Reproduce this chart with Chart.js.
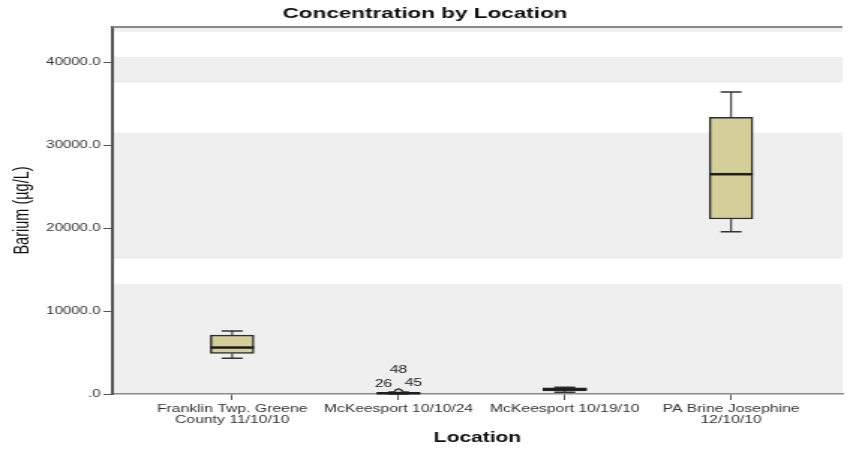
<!DOCTYPE html>
<html>
<head>
<meta charset="utf-8">
<title>Concentration by Location</title>
<script src="https://cdn.jsdelivr.net/npm/chart.js@4/dist/chart.umd.min.js"></script>
<style>
  html, body { margin: 0; padding: 0; background: #fff; overflow: hidden; }
  /* the chart is laid out narrow and widened horizontally, SPSS export style */
  #wrap { width: 567px; height: 449px; transform: scaleX(1.4991); transform-origin: 0 0; }
</style>
</head>
<body>
<div id="wrap"><canvas id="chart"></canvas></div>
<script>
// Barium box plots per sampling location (µg/L)
const locations = [
  ['Franklin Twp. Greene', 'County 11/10/10'],
  ['McKeesport 10/10/24'],
  ['McKeesport 10/19/10'],
  ['PA Brine Josephine', '12/10/10'],
];
const whiskerLow  = [4300,    10,  200, 19550];
const quartile1   = [4900,    40,  380, 21100];
const medians     = [5600,    90,  560, 26500];
const quartile3   = [7100,   150,  740, 33350];
const whiskerHigh = [7600,   230,  800, 36400];

// outliers: location index, value, case number
const outlierLoc   = [1, 1, 1];
const outlierValue = [270, 290, 310];
const outlierCase  = ['26', '45', '48'];

const yTicks = [0, 10000, 20000, 30000, 40000];
const yMax = 44250;

// alternating backdrop stripes, in µg/L
const bandRanges = [[0, 13260], [16310, 31500], [37530, 40630], [43680, 44250]];

const FONT = '"Liberation Sans", Arial, sans-serif';
const INK = '#333';

const backdrop = {
  id: 'backdrop',
  beforeDraw(chart) {
    const { ctx, chartArea: a, scales: { y } } = chart;
    ctx.save();
    ctx.fillStyle = '#fff';
    ctx.fillRect(a.left, a.top, a.right - a.left, a.bottom - a.top);
    ctx.fillStyle = '#efefef';
    bandRanges.forEach(([lo, hi]) => {
      const top = y.getPixelForValue(hi), bot = y.getPixelForValue(lo);
      ctx.fillRect(a.left, top, a.right - a.left, bot - top);
    });
    ctx.restore();
  },
  afterDraw(chart) {
    const { ctx, chartArea: a } = chart;
    ctx.save();
    ctx.strokeStyle = '#888';
    ctx.lineWidth = 2;
    ctx.beginPath();
    ctx.moveTo(a.left, a.top);
    ctx.lineTo(a.right, a.top);
    ctx.stroke();
    ctx.restore();
  }
};

const boxParts = {
  id: 'boxParts',
  beforeDatasetsDraw(chart) {
    const { ctx, scales: { x, y } } = chart;
    const cap = 7;
    ctx.save();
    ctx.strokeStyle = '#333';
    locations.forEach((_, i) => {
      const px = x.getPixelForValue(i);
      const lo = y.getPixelForValue(whiskerLow[i]), hi = y.getPixelForValue(whiskerHigh[i]);
      ctx.lineWidth = 1.1;
      ctx.beginPath();
      ctx.moveTo(px, lo); ctx.lineTo(px, y.getPixelForValue(quartile1[i]));
      ctx.moveTo(px, hi); ctx.lineTo(px, y.getPixelForValue(quartile3[i]));
      ctx.stroke();
      ctx.lineWidth = 1.5;
      ctx.beginPath();
      ctx.moveTo(px - cap, lo); ctx.lineTo(px + cap, lo);
      ctx.moveTo(px - cap, hi); ctx.lineTo(px + cap, hi);
      ctx.stroke();
    });
    ctx.restore();
  },
  afterDatasetsDraw(chart) {
    const { ctx, scales: { x, y } } = chart;
    const half = 14.5;
    ctx.save();
    ctx.strokeStyle = '#1e1e1e';
    ctx.lineWidth = 2.5;
    locations.forEach((_, i) => {
      const px = x.getPixelForValue(i), py = y.getPixelForValue(medians[i]);
      ctx.beginPath();
      ctx.moveTo(px - half, py); ctx.lineTo(px + half, py);
      ctx.stroke();
    });
    // case labels next to the outliers
    const pts = chart.getDatasetMeta(1).data;
    const shift = { '26': [-10, -8], '45': [10, -8], '48': [0, -21] };
    ctx.fillStyle = '#222';
    ctx.font = '10.5px ' + FONT;
    ctx.textAlign = 'center';
    ctx.textBaseline = 'middle';
    pts.forEach((p, i) => {
      const [dx, dy] = shift[outlierCase[i]] || [0, -8];
      ctx.fillText(outlierCase[i], p.x + dx, p.y + dy);
    });
    ctx.restore();
  }
};

new Chart(document.getElementById('chart'), {
  type: 'bar',
  data: {
    datasets: [
      {
        label: 'Barium',
        data: locations.map((_, i) => ({ x: i, y: [quartile1[i], quartile3[i]] })),
        backgroundColor: '#d4cf98',
        borderColor: '#2f2f2f',
        borderWidth: 1.5,
        borderSkipped: false,
        barThickness: 29,
      },
      {
        type: 'scatter',
        label: 'Outliers',
        data: outlierValue.map((v, i) => ({ x: outlierLoc[i], y: v })),
        pointRadius: 2.5,
        pointBorderWidth: 1,
        borderColor: '#222',
        backgroundColor: 'rgba(212,207,152,0.6)',
      },
    ],
  },
  options: {
    responsive: true,
    maintainAspectRatio: false,
    animation: false,
    layout: { padding: 0 },
    plugins: {
      legend: { display: false },
      tooltip: { enabled: false },
      title: {
        display: true,
        text: 'Concentration by Location',
        color: '#111',
        font: { family: FONT, size: 15, weight: 'bold' },
        padding: { top: 5, bottom: 4 },
      },
    },
    scales: {
      x: {
        type: 'linear',
        min: -0.72,
        max: 3.67,
        offset: false,
        afterBuildTicks: s => { s.ticks = locations.map((_, i) => ({ value: i })); },
        afterFit: s => { s.height = 55; },
        ticks: {
          callback: v => locations[v],
          autoSkip: false,
          maxRotation: 0,
          padding: 4,
          color: INK,
          font: { family: FONT, size: 10.5, lineHeight: 1.0 },
        },
        grid: { drawOnChartArea: false, offset: false, tickLength: 6, color: '#555' },
        border: { color: '#888', width: 1.5 },
        title: {
          display: true,
          text: 'Location',
          color: '#111',
          font: { family: FONT, size: 14, weight: 'bold' },
          padding: { top: 0, bottom: 2 },
        },
      },
      y: {
        min: 0,
        max: yMax,
        afterBuildTicks: s => { s.ticks = yTicks.map(v => ({ value: v })); },
        afterFit: s => { s.width = 75; },
        ticks: {
          callback: v => (v === 0 ? '.0' : v.toFixed(1)),
          padding: 2,
          color: INK,
          font: { family: FONT, size: 10 },
        },
        grid: { drawOnChartArea: false, tickLength: 6, color: '#555' },
        border: { color: '#555', width: 2 },
        title: {
          display: true,
          text: 'Barium (µg/L)',
          color: '#111',
          font: { family: FONT, size: 14.5 },
          padding: { top: 6, bottom: 0 },
        },
      },
    },
  },
  plugins: [backdrop, boxParts],
});
</script>
</body>
</html>
